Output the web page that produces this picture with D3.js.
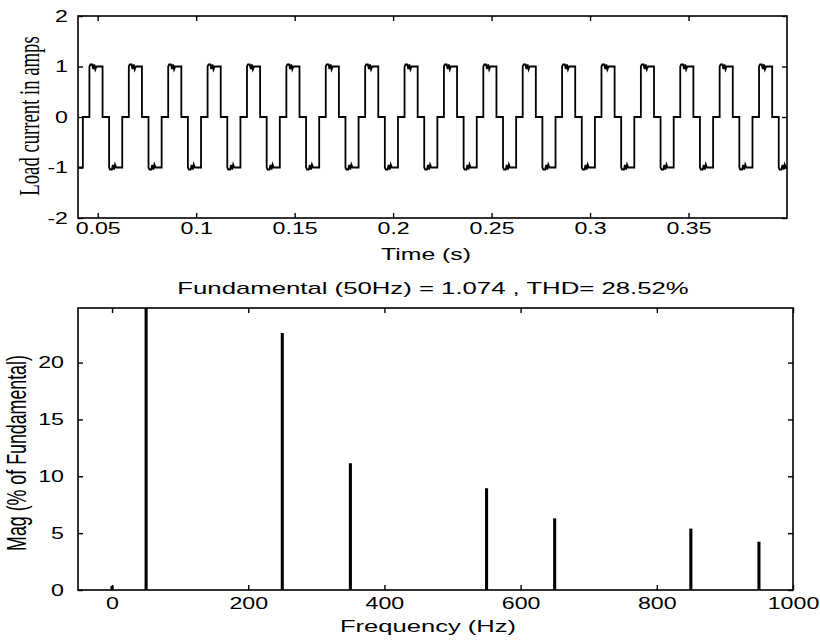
<!DOCTYPE html>
<html>
<head>
<meta charset="utf-8">
<script src="https://cdn.jsdelivr.net/npm/d3@7"></script>
<style>
  body { margin: 0; background: #fff; }
  svg { display: block; }
</style>
</head>
<body>
<div id="chart"></div>
<script>
// ---- data ----
// one period of the load current, ms after the rising edge, and its level
const cycleMs    = [0, 0, 0.5, 1.4, 1.9, 2.5, 3.0, 3.6, 6.67, 6.67, 10.0, 10.0, 10.5, 11.4, 11.9, 12.5, 13.0, 13.6, 16.67, 16.67, 20.0];
const cycleLevel = [0, 1.0, 1.04, 1.04, 0.95, 1.04, 0.94, 1.0, 1.0, 0, 0, -1.0, -1.04, -1.04, -0.95, -1.04, -0.94, -1.0, -1.0, 0, 0];
const periodS = 0.02;          // 50 Hz
const firstRiseS = 0.0258;     // rising edge before the visible window
const lastTimeS = 0.4;

const timeTicks = [0.05, 0.1, 0.15, 0.2, 0.25, 0.3, 0.35];
const currentTicks = [-2, -1, 0, 1, 2];

// harmonic spectrum, % of fundamental
const harmonicHz  = [0, 50, 250, 350, 550, 650, 850, 950];
const harmonicMag = [0.35, 100, 22.6, 11.15, 8.95, 6.3, 5.4, 4.25];
const freqTicks = [0, 200, 400, 600, 800, 1000];
const magTicks = [0, 5, 10, 15, 20];

const titleText = "Fundamental (50Hz) = 1.074 , THD= 28.52%";

// ---- layout ----
const width = 820, height = 642;
const SX = 1.55;   // the scan is stretched sideways, so is the lettering
const SXT = 1.45;  // tick labels
const sans = "'Liberation Sans', Arial, Helvetica, sans-serif";
const serif = "'Liberation Serif', 'Times New Roman', serif";

const svg = d3.select("#chart").append("svg")
    .attr("width", width)
    .attr("height", height);

const boxTop = { left: 78, right: 787, top: 16, bottom: 218 };
const boxBot = { left: 78, right: 793, top: 308, bottom: 590 };

function stretchTicks(g) {
    g.selectAll(".tick text").each(function() {
        const t = d3.select(this);
        const x = +t.attr("x") || 0;
        t.attr("x", x / SXT).attr("transform", "scale(" + SXT + ",1)");
    });
}

function drawAxes(box, x, y, xt, yt, xPad, yPad) {
    const g = svg.append("g");
    const common = (a) => a.tickSizeInner(-5).tickSizeOuter(0);
    const fmt = d => String(d);

    const gb = g.append("g").attr("transform", "translate(0," + box.bottom + ")")
        .call(common(d3.axisBottom(x).tickValues(xt).tickPadding(xPad).tickFormat(fmt)));
    const gt = g.append("g").attr("transform", "translate(0," + box.top + ")")
        .call(common(d3.axisTop(x).tickValues(xt).tickFormat("")));
    const gl = g.append("g").attr("transform", "translate(" + box.left + ",0)")
        .call(common(d3.axisLeft(y).tickValues(yt).tickPadding(yPad).tickFormat(fmt)));
    const gr = g.append("g").attr("transform", "translate(" + box.right + ",0)")
        .call(common(d3.axisRight(y).tickValues(yt).tickFormat("")));

    [gb, gt, gl, gr].forEach(a => {
        a.select(".domain").remove();
        a.selectAll("line").attr("stroke", "#000").attr("stroke-width", 1.4);
        a.selectAll("text").attr("font-family", sans).attr("font-size", 16).attr("fill", "#000");
    });
    stretchTicks(gb);
    stretchTicks(gl);

    g.append("rect")
        .attr("x", box.left).attr("y", box.top)
        .attr("width", box.right - box.left).attr("height", box.bottom - box.top)
        .attr("fill", "none").attr("stroke", "#000").attr("stroke-width", 1.6);
}

function label(txt, x, y, size, family, rotate) {
    svg.append("text")
        .attr("transform", "translate(" + x + "," + y + ") scale(" + SX + ",1)" + (rotate ? " rotate(-90)" : ""))
        .attr("text-anchor", "middle")
        .attr("font-family", family)
        .attr("font-size", size)
        .attr("fill", "#000")
        .text(txt);
}

// ---- top: load current ----
const xT = d3.scaleLinear().domain([0.04, lastTimeS]).range([boxTop.left, boxTop.right]);
const yT = d3.scaleLinear().domain([-2, 2]).range([boxTop.bottom, boxTop.top]);

const wave = [];
for (let t0 = firstRiseS; t0 < lastTimeS; t0 += periodS) {
    cycleMs.forEach((ms, i) => wave.push([t0 + ms / 1000, cycleLevel[i]]));
}

svg.append("clipPath").attr("id", "clipTop")
    .append("rect")
    .attr("x", boxTop.left).attr("y", boxTop.top)
    .attr("width", boxTop.right - boxTop.left).attr("height", boxTop.bottom - boxTop.top);

svg.append("path")
    .datum(wave)
    .attr("clip-path", "url(#clipTop)")
    .attr("fill", "none")
    .attr("stroke", "#000")
    .attr("stroke-width", 1.8)
    .attr("stroke-linejoin", "miter")
    .attr("d", d3.line().x(d => xT(d[0])).y(d => yT(d[1])));

drawAxes(boxTop, xT, yT, timeTicks, currentTicks, 5, 10);
label("Time (s)", 426, 260, 16, sans, false);
label("Load current in amps", 39, 116, 18.7, serif, true);

// ---- bottom: spectrum ----
label(titleText, 433, 294, 16.6, sans, false);

const xB = d3.scaleLinear().domain([-50, 1000]).range([boxBot.left, boxBot.right]);
const yB = d3.scaleLinear().domain([0, 24.8]).range([boxBot.bottom, boxBot.top]);
const barHz = 4.5;

svg.append("clipPath").attr("id", "clipBot")
    .append("rect")
    .attr("x", boxBot.left).attr("y", boxBot.top)
    .attr("width", boxBot.right - boxBot.left).attr("height", boxBot.bottom - boxBot.top);

svg.append("g")
    .attr("clip-path", "url(#clipBot)")
    .selectAll("rect")
    .data(harmonicHz.map((f, i) => ({ f, m: harmonicMag[i] })))
    .enter()
    .append("rect")
    .attr("x", d => xB(d.f - barHz / 2))
    .attr("width", xB(barHz) - xB(0))
    .attr("y", d => yB(d.m))
    .attr("height", d => yB(0) - yB(d.m))
    .attr("fill", "#000");

drawAxes(boxBot, xB, yB, freqTicks, magTicks, 8, 14);
label("Frequency (Hz)", 428, 632, 16.5, sans, false);
label("Mag (% of Fundamental)", 26, 453, 17.8, sans, true);
</script>
</body>
</html>
